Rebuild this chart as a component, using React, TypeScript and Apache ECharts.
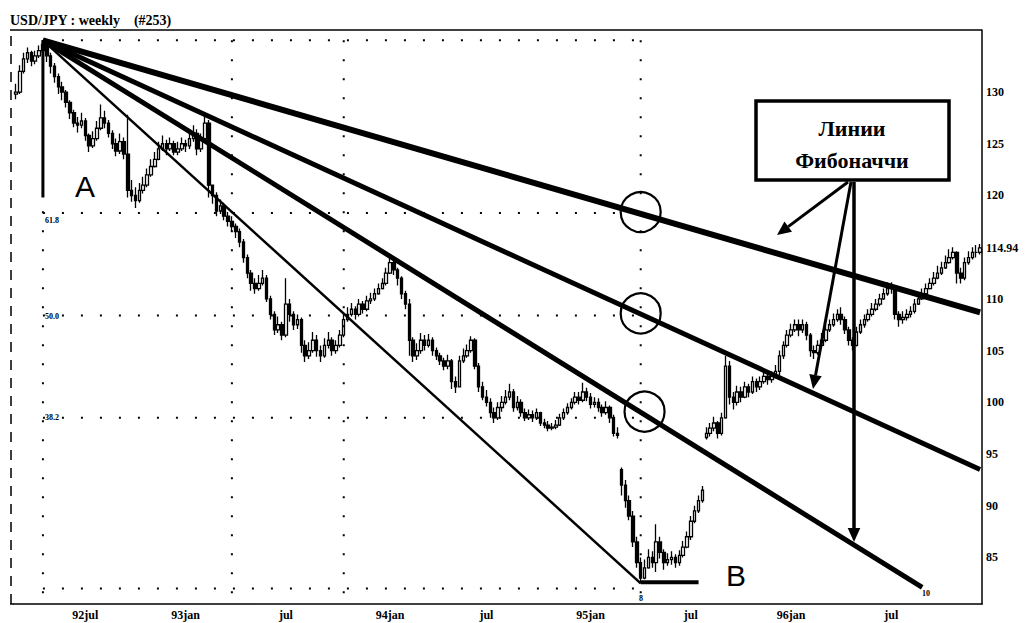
import React, { useEffect, useRef } from 'react';
import * as echarts from 'echarts';

// ---------- data ----------
const START_DATE = Date.UTC(1992, 1, 28); // first weekly bar (Friday)

const closes = [
  130.0, 132.0, 133.2, 133.8, 133.0, 133.5, 134.0, 134.6, 133.5, 132.5,
  131.5, 130.5, 130.0, 129.0, 128.0, 127.0, 126.8, 127.2, 125.8, 124.8,
  125.5, 126.5, 127.5, 127.0, 126.0, 125.0, 124.3, 125.2, 124.0, 120.5,
  120.0, 119.5, 120.5, 121.0, 122.0, 122.8, 123.5, 124.5, 125.0, 124.5,
  125.0, 124.2, 124.5, 125.0, 124.8, 125.5, 126.0, 124.5, 125.5, 127.0,
  121.0, 120.0, 118.5, 119.0, 118.0, 117.5, 117.0, 116.5, 115.5, 114.0,
  112.5, 111.5, 111.0, 111.5, 112.0, 110.0, 108.5, 107.0, 107.5, 106.5,
  109.5, 108.5, 107.5, 108.0, 105.5, 104.5, 105.0, 106.0, 105.0, 104.5,
  105.5, 106.0, 105.0, 105.5, 106.5, 108.0, 108.5, 109.0, 108.5, 109.5,
  109.0, 109.8, 110.0, 110.5, 111.0, 111.5, 112.5, 113.5, 112.8, 112.0,
  110.5, 109.5, 106.0, 104.5, 105.0, 106.0, 105.5, 106.0, 105.0, 104.5,
  104.0, 103.5, 104.0, 102.0, 101.5, 104.0, 104.5, 105.0, 106.0, 103.5,
  101.5, 100.5, 100.0, 99.0, 98.5, 99.5, 100.0, 100.5, 101.0, 99.5,
  100.0, 99.0, 98.5, 98.8, 98.5, 99.0, 98.0, 97.8, 97.5, 97.6,
  97.8, 98.5, 99.0, 99.5, 100.0, 100.5, 100.2, 101.0, 100.5, 99.8,
  100.0, 99.5, 99.0, 99.5, 98.5, 97.0, 96.8, 92.0, 90.5, 89.0,
  86.5, 84.5, 83.0, 84.0, 85.0, 84.5, 86.5, 85.5, 84.5, 84.8,
  85.0, 84.5, 85.2, 86.0, 87.0, 88.5, 89.5, 90.5, 91.5, 97.0,
  97.5, 98.0, 97.0, 98.5, 103.5, 100.5, 100.0, 101.0, 100.5, 101.5,
  101.0, 102.0, 101.5, 102.0, 102.5, 102.2, 102.5, 103.0, 104.5, 105.5,
  106.5, 107.0, 107.5, 107.0, 107.5, 106.5, 105.0, 104.8, 105.5, 106.0,
  107.0, 107.5, 108.0, 108.5, 108.0, 107.0, 106.0, 105.5, 106.8, 107.5,
  108.0, 108.5, 109.0, 109.5, 110.0, 110.5, 111.0, 111.0, 108.5, 108.0,
  108.2, 108.5, 108.8, 109.5, 110.0, 110.5, 111.0, 111.5, 112.0, 112.5,
  113.0, 113.5, 114.0, 114.5, 112.5, 112.0, 113.5, 114.0, 114.5, 114.5,
  114.94,
];

const highs = [
  130.8, 132.6, 133.8, 134.3, 134.0, 134.0, 134.5, 135.0, 134.6, 133.8,
  132.8, 131.8, 131.0, 130.2, 129.2, 128.3, 127.6, 128.0, 127.5, 126.0,
  126.2, 127.2, 128.8, 128.2, 127.3, 126.3, 125.5, 126.0, 125.6, 127.8,
  121.5, 120.8, 121.2, 121.8, 122.6, 123.5, 124.2, 125.2, 125.8, 125.4,
  125.6, 125.3, 125.2, 125.6, 125.4, 126.3, 126.8, 126.4, 126.0, 127.8,
  127.3, 121.0, 120.3, 119.6, 119.3, 118.4, 118.0, 117.3, 116.8, 115.8,
  114.3, 112.8, 112.0, 112.3, 112.8, 112.3, 110.3, 108.8, 108.3, 107.8,
  112.0, 110.0, 108.8, 108.5, 108.2, 106.0, 105.8, 106.8, 106.5, 105.5,
  106.2, 106.8, 106.3, 106.0, 107.0, 108.6, 109.2, 109.6, 109.3, 110.0,
  109.8, 110.3, 110.6, 111.0, 111.5, 112.0, 113.0, 114.0, 113.8, 113.0,
  112.2, 110.8, 110.0, 106.3, 105.7, 106.7, 106.5, 106.6, 106.3, 105.3,
  104.8, 104.3, 104.6, 104.2, 102.5, 104.5, 105.2, 105.6, 106.4, 106.2,
  103.8, 102.0, 101.2, 100.4, 99.5, 100.0, 100.6, 101.2, 101.8, 101.3,
  100.6, 100.3, 99.4, 99.3, 99.2, 99.4, 99.1, 98.4, 98.2, 98.0,
  98.3, 98.9, 99.4, 99.9, 100.4, 101.0, 101.0, 101.9, 101.4, 100.9,
  100.5, 100.4, 99.8, 100.1, 99.7, 98.8, 97.6, 93.7, 92.5, 91.0,
  89.5, 87.0, 85.0, 84.8, 85.8, 85.6, 88.2, 87.0, 85.8, 85.4,
  85.6, 85.3, 85.7, 86.6, 87.5, 89.0, 90.0, 91.0, 91.9, 97.6,
  98.0, 98.6, 98.2, 99.0, 104.5, 104.0, 101.0, 101.6, 101.5, 102.0,
  101.8, 102.5, 102.3, 102.5, 103.0, 102.9, 103.0, 103.6, 105.0, 105.9,
  107.0, 107.6, 108.0, 108.0, 108.0, 107.8, 106.7, 105.5, 106.0, 106.7,
  107.5, 108.0, 108.6, 109.0, 109.2, 108.3, 107.3, 106.3, 107.3, 108.0,
  108.5, 109.0, 109.6, 110.0, 110.5, 111.0, 111.6, 111.6, 111.2, 108.8,
  108.8, 109.0, 109.3, 110.0, 110.5, 111.0, 111.5, 112.0, 112.6, 113.2,
  113.6, 114.2, 114.8, 115.0, 114.6, 113.0, 114.0, 114.6, 115.0, 115.2,
  115.3,
];

const lows = [
  129.3, 129.8, 131.8, 132.8, 132.5, 132.7, 133.3, 133.8, 132.9, 131.8,
  130.9, 129.8, 129.2, 128.5, 127.4, 126.6, 126.1, 126.5, 125.3, 124.2,
  124.6, 125.3, 126.3, 126.5, 125.6, 124.5, 123.8, 124.0, 123.5, 119.8,
  119.4, 118.8, 119.3, 120.2, 120.8, 121.8, 122.7, 123.4, 124.3, 123.9,
  124.3, 123.9, 123.9, 124.3, 124.2, 124.5, 125.2, 123.9, 124.2, 125.2,
  119.8, 119.2, 118.0, 118.2, 117.6, 117.0, 116.5, 115.9, 115.0, 113.5,
  112.0, 110.8, 110.5, 110.8, 111.3, 109.7, 108.0, 106.5, 106.7, 106.0,
  106.3, 107.8, 107.0, 107.1, 104.8, 103.9, 104.2, 104.8, 104.4, 103.9,
  104.3, 105.2, 104.5, 104.7, 105.3, 106.3, 107.8, 108.3, 108.0, 108.3,
  108.6, 108.8, 109.5, 109.8, 110.4, 110.9, 111.3, 112.4, 112.3, 111.3,
  110.0, 109.0, 104.5, 103.9, 104.1, 104.7, 105.0, 105.3, 104.5, 104.1,
  103.6, 103.1, 103.2, 101.3, 100.9, 101.5, 103.8, 104.3, 104.8, 103.2,
  101.0, 100.2, 99.6, 98.5, 98.0, 98.3, 99.1, 99.8, 100.2, 99.1,
  99.2, 98.6, 98.2, 98.3, 98.1, 98.3, 97.7, 97.5, 97.2, 97.3,
  97.4, 97.7, 98.3, 98.8, 99.3, 99.8, 99.8, 100.0, 100.1, 99.4,
  99.5, 99.1, 98.6, 98.8, 98.0, 96.7, 96.5, 91.0, 89.8, 88.6,
  86.0, 84.0, 82.5, 82.9, 83.9, 84.0, 83.6, 84.9, 83.8, 84.2,
  84.3, 84.0, 84.2, 85.0, 85.9, 86.7, 88.3, 89.3, 90.3, 96.4,
  96.7, 97.2, 96.5, 96.8, 98.4, 99.8, 99.3, 99.7, 100.0, 100.4,
  100.5, 100.8, 101.0, 101.2, 101.8, 101.7, 101.9, 102.3, 102.6, 104.2,
  105.3, 106.3, 106.8, 106.4, 106.7, 106.0, 104.4, 104.2, 104.6, 105.5,
  105.8, 106.8, 107.3, 107.8, 107.5, 106.6, 105.5, 105.0, 105.4, 106.6,
  107.2, 107.8, 108.3, 108.8, 109.3, 109.9, 110.3, 110.5, 108.0, 107.3,
  107.6, 107.9, 108.2, 108.6, 109.4, 109.9, 110.4, 110.9, 111.3, 111.9,
  112.3, 112.9, 113.4, 113.8, 111.5, 111.5, 111.8, 113.3, 113.8, 114.0,
  114.3,
];

// weeks whose open does not equal the previous close (price gaps)
const gapOpens: Record<number, number> = { 0: 129.8, 157: 93.5, 179: 96.6 };

// Fibonacci fan construction (week index, price)
const pointA = [7, 135.0];
const pointB = [162, 82.5];
const fanEnds = [
  [250, 108.7],
  [250, 93.5],
  [235, 82.1],
];
const fibLevels = [118.3, 108.4, 98.5];
const fibLabels = ['61.8', '50.0', '38.2'];
const circleCenters = [
  [162, 118.4],
  [162, 108.6],
  [163, 99.1],
];
const guideTop = 135.0;
const guideBottom = 82.0;
const guideVerticalWeeks = [7, 56, 85, 162];
const aMarkerBottom = 119.8;
const bBaseline = { from: 162, to: 177, value: 82.6 };
const yLabelValues = [85, 90, 95, 100, 105, 110, 114.94, 120, 125, 130];

const SERIF = '"Liberation Serif", "DejaVu Serif", serif';

function arrow(x1: number, y1: number, x2: number, y2: number, head = 13, width = 3) {
  const ang = Math.atan2(y2 - y1, x2 - x1);
  const bx = x2 - head * Math.cos(ang);
  const by = y2 - head * Math.sin(ang);
  const px = Math.cos(ang + Math.PI / 2) * head * 0.45;
  const py = Math.sin(ang + Math.PI / 2) * head * 0.45;
  return [
    {
      type: 'line',
      shape: { x1, y1, x2: bx, y2: by },
      style: { stroke: '#000', lineWidth: width },
      z: 100,
    },
    {
      type: 'polygon',
      shape: { points: [[x2, y2], [bx + px, by + py], [bx - px, by - py]] },
      style: { fill: '#000' },
      z: 100,
    },
  ];
}

export default function App() {
  const ref = useRef<HTMLDivElement>(null);

  useEffect(() => {
    if (!ref.current) return;
    const chart = echarts.init(ref.current, undefined, { renderer: 'svg' });

    const N = closes.length;
    const dates = Array.from({ length: N }, (_, i) => new Date(START_DATE + i * 7 * 86400000));
    const cats = dates.map((d) => d.toISOString().slice(0, 10));
    const labelText: Record<number, string> = {};
    let first = true;
    dates.forEach((d, i) => {
      if (i === 0) return;
      const m = d.getUTCMonth();
      const pm = dates[i - 1].getUTCMonth();
      if (m !== pm && (m === 0 || m === 6)) {
        const yy = String(d.getUTCFullYear()).slice(2);
        labelText[i] = m === 0 || first ? yy + (m === 0 ? 'jan' : 'jul') : 'jul';
        first = false;
      }
    });

    const candles = closes.map((c, i) => {
      const o = gapOpens[i] !== undefined ? gapOpens[i] : closes[i - 1];
      const lo = Math.min(lows[i], o, c);
      const hi = Math.max(highs[i], o, c);
      return [o, c, lo, hi];
    });

    const seg = (name: string, data: number[][], width: number, type: any = 'solid') => ({
      name,
      type: 'line',
      data,
      showSymbol: false,
      symbol: 'none',
      silent: true,
      lineStyle: { color: '#000', width, type, cap: 'butt' },
      z: 5,
    });

    const dotted: any[] = [];
    [guideTop, ...fibLevels, guideBottom].forEach((lv, k) =>
      dotted.push(seg('h' + k, [[pointA[0], lv], [pointB[0], lv]], 2, [2, 17]))
    );
    guideVerticalWeeks.forEach((w, k) =>
      dotted.push(seg('v' + k, [[w, guideTop], [w, 80.6]], 2, [2, 17]))
    );

    const option: any = {
      animation: false,
      backgroundColor: '#fff',
      grid: { left: 14, right: 44, top: 30, bottom: 19, containLabel: false },
      xAxis: {
        type: 'category',
        data: cats,
        boundaryGap: true,
        axisLine: { show: true, lineStyle: { color: '#000', width: 1.5 } },
        axisTick: { show: false },
        splitLine: { show: false },
        axisLabel: {
          interval: (idx: number) => labelText[idx] !== undefined,
          formatter: (_v: string, idx: number) => labelText[idx] || '',
          color: '#000',
          fontFamily: SERIF,
          fontWeight: 'bold',
          fontSize: 12,
          margin: 5,
        },
      },
      yAxis: {
        type: 'value',
        position: 'right',
        min: 80.5,
        max: 136,
        scale: true,
        axisLine: { show: true, lineStyle: { color: '#000', width: 1.5 } },
        axisTick: { show: false },
        splitLine: { show: false },
        axisLabel: {
          customValues: yLabelValues,
          formatter: (v: number) => String(v),
          color: '#000',
          fontFamily: SERIF,
          fontWeight: 'bold',
          fontSize: 12,
          margin: 4,
        },
      },
      series: [
        ...dotted,
        {
          name: 'USD/JPY',
          type: 'candlestick',
          data: candles,
          barWidth: 3,
          itemStyle: {
            color: '#fff',
            color0: '#000',
            borderColor: '#000',
            borderColor0: '#000',
            borderWidth: 1.3,
            opacity: 1,
          },
          z: 3,
        },
        seg('A-B', [pointA, pointB], 2.5),
        seg('fan 1', [pointA, fanEnds[0]], 6),
        seg('fan 2', [pointA, fanEnds[1]], 5),
        seg('fan 3', [pointA, fanEnds[2]], 5),
        seg('A marker', [pointA, [pointA[0], aMarkerBottom]], 3),
        seg('B base', [[bBaseline.from, bBaseline.value], [bBaseline.to, bBaseline.value]], 4),
        {
          name: 'circles',
          type: 'scatter',
          data: circleCenters,
          symbol: 'circle',
          symbolSize: 40,
          silent: true,
          itemStyle: { color: 'rgba(0,0,0,0)', borderColor: '#000', borderWidth: 2.2, opacity: 1 },
          z: 6,
        },
      ],
      graphic: [
        {
          type: 'text',
          left: 10,
          top: 13,
          style: { text: 'USD/JPY : weekly    (#253)', font: `bold 14px ${SERIF}`, fill: '#000' },
        },
        { type: 'line', shape: { x1: 10, y1: 30, x2: 982, y2: 30 }, style: { stroke: '#000', lineWidth: 1.5 } },
        { type: 'line', shape: { x1: 10, y1: 604, x2: 14, y2: 604 }, style: { stroke: '#000', lineWidth: 1.5 } },
        {
          type: 'line',
          shape: { x1: 11, y1: 36, x2: 11, y2: 604 },
          style: { stroke: '#000', lineWidth: 1.5, lineDash: [10, 8] },
        },
        ...fibLabels.map((t, k) => ({
          type: 'text',
          x: 45,
          y: [216, 312, 413][k],
          style: { text: t, font: `bold 8px ${SERIF}`, fill: '#000' },
        })),
        { type: 'text', x: 75, y: 171, style: { text: 'A', font: '30px "Liberation Sans", Arial, sans-serif', fill: '#000' } },
        { type: 'text', x: 726, y: 560, style: { text: 'B', font: '30px "Liberation Sans", Arial, sans-serif', fill: '#000' } },
        { type: 'text', x: 639, y: 594, style: { text: '8', font: `bold 8px ${SERIF}`, fill: '#000' } },
        { type: 'text', x: 922, y: 589, style: { text: '10', font: `bold 8px ${SERIF}`, fill: '#000' } },
        {
          type: 'rect',
          shape: { x: 756, y: 101, width: 193, height: 79 },
          style: { fill: '#fff', stroke: '#000', lineWidth: 3.5 },
          z: 100,
        },
        {
          type: 'text',
          x: 852,
          y: 128,
          style: { text: 'Линии', font: `bold 22px ${SERIF}`, fill: '#000', align: 'center', verticalAlign: 'middle' },
          z: 101,
        },
        {
          type: 'text',
          x: 852,
          y: 160,
          style: { text: 'Фибоначчи', font: `bold 22px ${SERIF}`, fill: '#000', align: 'center', verticalAlign: 'middle' },
          z: 101,
        },
        ...arrow(848, 182, 777, 235, 14, 3),
        ...arrow(851, 182, 813, 389, 14, 3),
        ...arrow(854, 182, 854, 542, 14, 3.5),
      ],
    };

    chart.setOption(option);
    return () => chart.dispose();
  }, []);

  return (
    <div
      ref={ref}
      style={{ position: 'fixed', left: 0, top: 0, width: 1026, height: 623, background: '#fff' }}
    />
  );
}
